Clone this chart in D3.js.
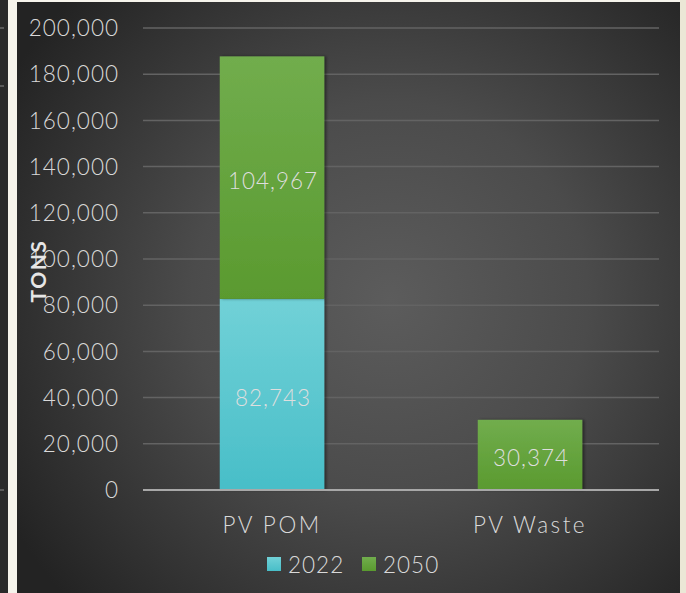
<!DOCTYPE html>
<html>
<head>
<meta charset="utf-8">
<script src="https://cdn.jsdelivr.net/npm/d3@7/dist/d3.min.js"></script>
<style>
  html, body { margin: 0; padding: 0; background: #f6f4ec; }
  svg { display: block; }
  text { font-family: "Lato", "Noto Sans", sans-serif; }
</style>
</head>
<body>
<svg id="chart" width="686" height="593"></svg>
<script>
// Tonnage of photovoltaic panels placed on market vs. waste
const categories = ["PV POM", "PV Waste"];
const seriesNames = ["2022", "2050"];
const values2022 = [82743, 0];
const values2050 = [104967, 30374];
const yTicks = [0, 20000, 40000, 60000, 80000, 100000, 120000, 140000, 160000, 180000, 200000];
const seriesColors = { "2022": ["#71d1d7", "#48bec8"], "2050": ["#71ad4d", "#5a9a2f"] };

const svg = d3.select("#chart");
const W = 686, H = 593;
const defs = svg.append("defs");

// panel background: dark radial vignette
const bg = defs.append("radialGradient").attr("id", "bg")
  .attr("gradientUnits", "userSpaceOnUse")
  .attr("cx", 390).attr("cy", 300).attr("r", 440);
bg.append("stop").attr("offset", "0%").attr("stop-color", "#5c5c5c");
bg.append("stop").attr("offset", "45%").attr("stop-color", "#4b4b4b");
bg.append("stop").attr("offset", "100%").attr("stop-color", "#232323");

seriesNames.forEach(s => {
  const g = defs.append("linearGradient").attr("id", "g" + s)
    .attr("x1", 0).attr("y1", 0).attr("x2", 0).attr("y2", 1);
  g.append("stop").attr("offset", "0%").attr("stop-color", seriesColors[s][0]);
  g.append("stop").attr("offset", "100%").attr("stop-color", seriesColors[s][1]);
});

const shadow = defs.append("filter").attr("id", "shadow")
  .attr("x", "-10%").attr("y", "-10%").attr("width", "130%").attr("height", "120%");
shadow.append("feDropShadow").attr("dx", 2).attr("dy", 0).attr("stdDeviation", 1.5)
  .attr("flood-color", "#000").attr("flood-opacity", 0.45);

// neighbouring panel edge on the left
svg.append("rect").attr("x", 0).attr("y", 0).attr("width", 8).attr("height", H).attr("fill", "#2a2a2a");
[28, 86, 490].forEach(y => svg.append("line").attr("x1", 0).attr("x2", 4).attr("y1", y).attr("y2", y)
  .attr("stroke", "#8a8a8a").attr("stroke-width", 1));
svg.append("rect").attr("x", 680).attr("y", 0).attr("width", 6).attr("height", H).attr("fill", "#ebe7d6");

// main panel
svg.append("rect").attr("x", 17).attr("y", 2).attr("width", 663).attr("height", H - 2).attr("fill", "url(#bg)");

const plot = { left: 143, right: 659, top: 28, bottom: 490 };

const y = d3.scaleLinear().domain([0, 200000]).range([plot.bottom, plot.top]);
const x = d3.scaleBand().domain(categories).range([plot.left, plot.right]).padding(0);
const barW = x.bandwidth() * 0.405;

const labelFont = { size: 22.5, weight: 300, spacing: 1 };

// gridlines
svg.append("g").selectAll("line").data(yTicks.filter(d => d > 0)).join("line")
  .attr("x1", plot.left).attr("x2", plot.right)
  .attr("y1", d => y(d)).attr("y2", d => y(d))
  .attr("stroke", "#636363").attr("stroke-width", 1.5);

// y tick labels
svg.append("g").selectAll("text").data(yTicks).join("text")
  .attr("x", 119).attr("y", d => y(d)).attr("dy", "0.36em")
  .attr("text-anchor", "end").attr("fill", "#d9d9d9")
  .attr("font-size", labelFont.size).attr("font-weight", labelFont.weight)
  .attr("letter-spacing", labelFont.spacing)
  .text(d => d3.format(",")(d));

// stacked bars
const rows = categories.map((c, i) => ({ cat: c, "2022": values2022[i], "2050": values2050[i] }));
const stacked = d3.stack().keys(seriesNames)(rows);

const layers = svg.append("g").selectAll("g").data(stacked).join("g")
  .attr("fill", d => "url(#g" + d.key + ")");

layers.selectAll("rect").data(d => d.filter(p => p[1] - p[0] > 0)).join("rect")
  .attr("x", d => x(d.data.cat) + (x.bandwidth() - barW) / 2)
  .attr("y", d => y(d[1]))
  .attr("width", barW)
  .attr("height", d => y(d[0]) - y(d[1]))
  .attr("filter", "url(#shadow)");

// value labels
stacked.forEach(layer => {
  svg.append("g").selectAll("text").data(layer.filter(p => p[1] - p[0] > 0)).join("text")
    .attr("x", d => x(d.data.cat) + x.bandwidth() / 2 + 1)
    .attr("y", d => y((d[0] + d[1]) / 2))
    .attr("dy", "0.5em")
    .attr("text-anchor", "middle").attr("fill", "#dedede")
    .attr("font-size", labelFont.size).attr("font-weight", labelFont.weight)
    .attr("letter-spacing", labelFont.spacing)
    .text(d => d3.format(",")(d[1] - d[0]));
});

// baseline axis
svg.append("line").attr("x1", plot.left).attr("x2", plot.right)
  .attr("y1", plot.bottom).attr("y2", plot.bottom)
  .attr("stroke", "#a8a8a8").attr("stroke-width", 2);

// category labels
svg.append("g").selectAll("text").data(categories).join("text")
  .attr("x", d => x(d) + x.bandwidth() / 2).attr("y", 533)
  .attr("text-anchor", "middle").attr("fill", "#d9d9d9")
  .attr("font-size", 22.5).attr("font-weight", 300).attr("letter-spacing", 2.5)
  .text(d => d);

// y axis title
svg.append("text")
  .attr("transform", "translate(46,271) rotate(-90)")
  .attr("text-anchor", "middle").attr("fill", "#e6e6e6")
  .attr("font-size", 21).attr("font-weight", 700).attr("letter-spacing", 1.5)
  .text("TONS");

// legend
const legend = svg.append("g");
const legendX = [267, 362];
seriesNames.forEach((s, i) => {
  legend.append("rect").attr("x", legendX[i]).attr("y", 557).attr("width", 14).attr("height", 14)
    .attr("fill", "url(#g" + s + ")");
  legend.append("text").attr("x", legendX[i] + 21).attr("y", 573)
    .attr("fill", "#d9d9d9").attr("font-size", 22.5).attr("font-weight", 300)
    .attr("letter-spacing", 1)
    .text(s);
});
</script>
</body>
</html>
